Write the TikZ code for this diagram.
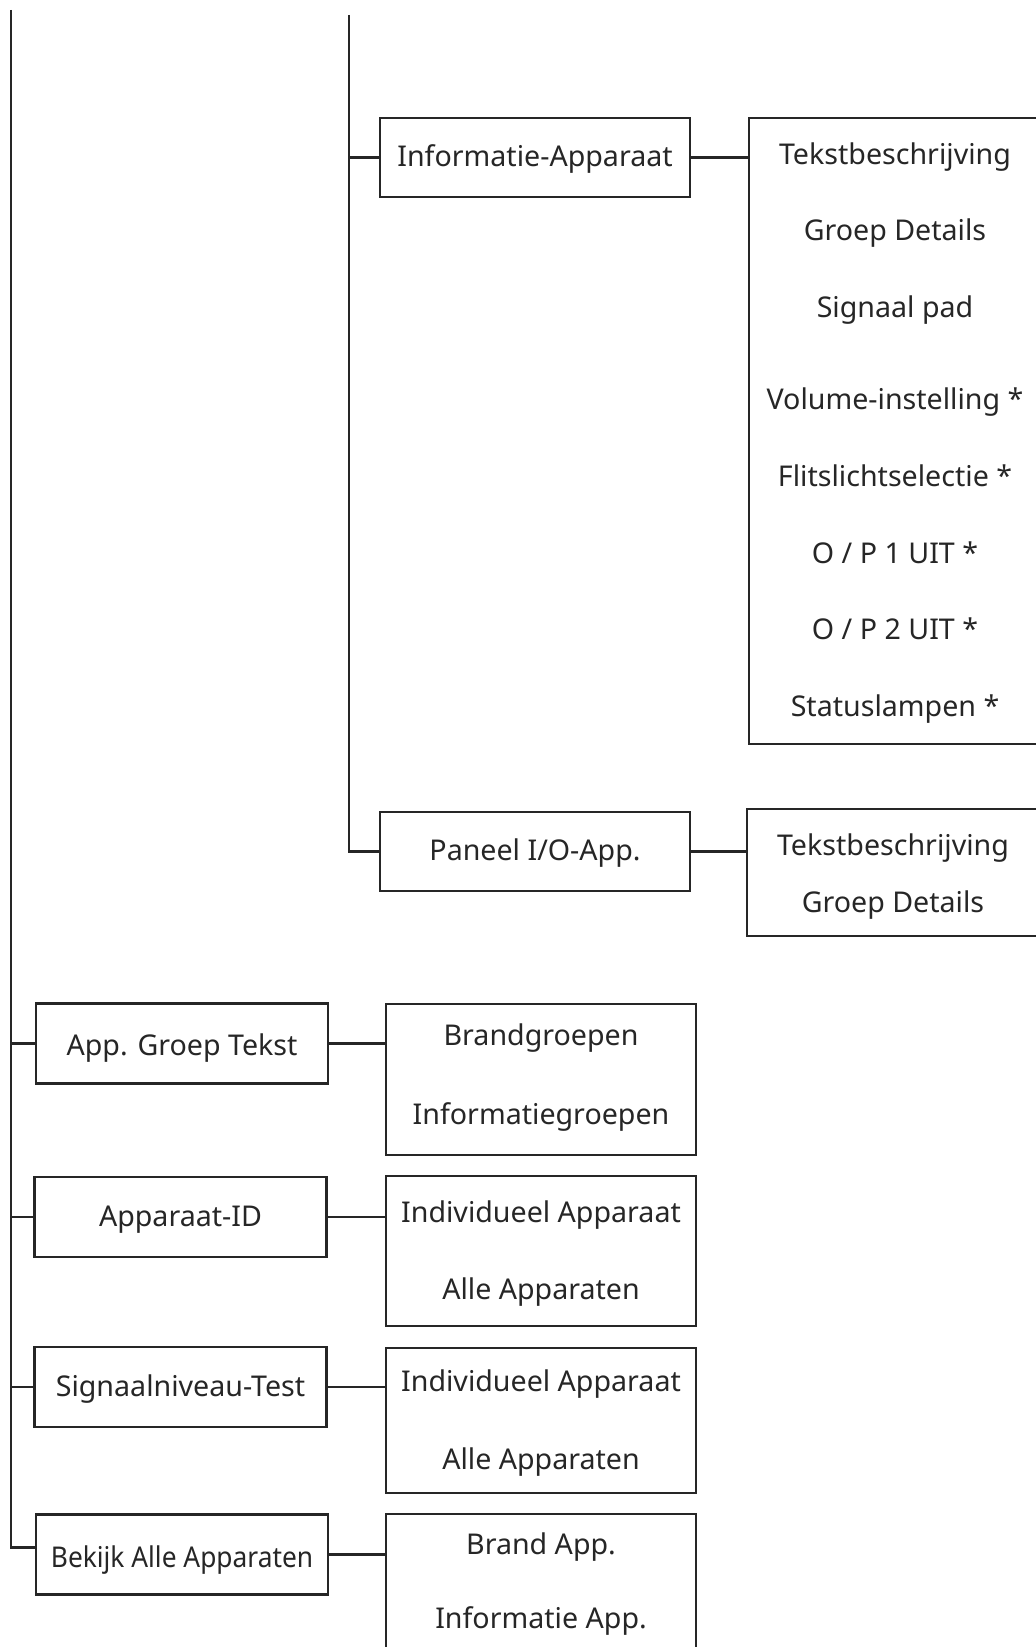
\documentclass[tikz,border=0pt]{standalone}
\usepackage{fontspec}
\setmainfont{Noto Sans}
\usepackage{xcolor}
\usepackage{tikz}
\usetikzlibrary{positioning,calc}
\definecolor{ink}{HTML}{262626}
\tikzset{
  every node/.style={font=\fontsize{14.3}{17}\selectfont,text=ink,text height=1.12em,text depth=0.14em},
  menu/.style={draw=ink,line width=1.1pt,fill=white,inner sep=0pt,minimum width=146pt,minimum height=40pt},
  submenu/.style={menu,minimum width=155pt,minimum height=39.5pt},
  list/.style={draw=ink,line width=1.1pt,inner sep=0pt},
  item/.style={inner sep=0pt,anchor=center},
  link/.style={draw=ink,line width=1.1pt}
}
\begin{document}
\begin{tikzpicture}[x=0.5pt,y=-0.5pt]
  \useasboundingbox (0,0) rectangle (1035,1647);
  % trunks
  \coordinate (mainroot) at (11,10);
  \coordinate (subroot) at (349,15);

  % sub level
  \node[submenu,text height=1.0em] (infoapp) at (535,157.5) {Informatie-Apparaat};
  \node[submenu,text height=1.0em] (panelapp) at (535,851.5) {Paneel I/O-App.};
  \node[list,minimum width=148pt,minimum height=313pt] (infolist) at (897,431) {};
  \node[list,minimum width=149pt,minimum height=63.5pt] (panellist) at (896,872.5) {};
  \foreach \yy/\txt [count=\i] in {155/{Tekstbeschrijving},231/{Groep Details},308/{Signaal pad},
      400/{Volume-instelling *},477/{Flitslichtselectie *},554/{O / P 1 UIT *},630/{O / P 2 UIT *},707/{Statuslampen *}}
    \node[item] (infoitem\i) at (895,\yy) {\txt};
  \node[item] (panelitem1) at (893,846) {Tekstbeschrijving};
  \node[item] (panelitem2) at (893,903) {Groep Details};

  % main level
  \node[menu,text height=1.3em] (grouptext) at (182,1043.5) {App. Groep Tekst};
  \node[menu] (appid) at (180.5,1217) {Apparaat-ID};
  \node[menu] (siglevel) at (180.5,1387) {Signaalniveau-Test};
  \node[menu,text height=1.45em] (viewall) at (182,1554.5) {\scalebox{0.92}[1]{Bekijk Alle Apparaten}};
  \node[list,minimum width=155pt,minimum height=75.5pt] (grouplist) at (541,1079.5) {};
  \node[list,minimum width=155pt,minimum height=75pt] (idlist) at (541,1251) {};
  \node[list,minimum width=155pt,minimum height=72.5pt] (levellist) at (541,1420.5) {};
  \node[list,minimum width=155pt,minimum height=73pt] (viewlist) at (541,1587) {};
  \node[item] (groupitem1) at (541,1036) {Brandgroepen};
  \node[item] (groupitem2) at (541,1115) {Informatiegroepen};
  \node[item] (iditem1) at (541,1213) {Individueel Apparaat};
  \node[item] (iditem2) at (541,1290) {Alle Apparaten};
  \node[item] (levelitem1) at (541,1382) {Individueel Apparaat};
  \node[item] (levelitem2) at (541,1460) {Alle Apparaten};
  \node[item] (viewitem1) at (541,1545) {Brand App.};
  \node[item] (viewitem2) at (541,1619) {Informatie App.};

  % connectors
  \draw[link] (mainroot) |- ([yshift=3.5pt]viewall.west);
  \foreach \m in {grouptext,appid,siglevel}
    \draw[link] (mainroot |- \m.west) -- (\m.west);
  \draw[link] (subroot) |- (panelapp.west);
  \draw[link] (subroot |- infoapp.west) -- (infoapp.west);
  \draw[link] (infoapp.east) -- (infoapp.east -| infolist.west);
  \draw[link] (panelapp.east) -- (panelapp.east -| panellist.west);
  \draw[link] (grouptext.east) -- (grouptext.east -| grouplist.west);
  \draw[link] (appid.east) -- (appid.east -| idlist.west);
  \draw[link] (siglevel.east) -- (siglevel.east -| levellist.west);
  \draw[link] (viewall.east) -- (viewall.east -| viewlist.west);
\end{tikzpicture}
\end{document}
